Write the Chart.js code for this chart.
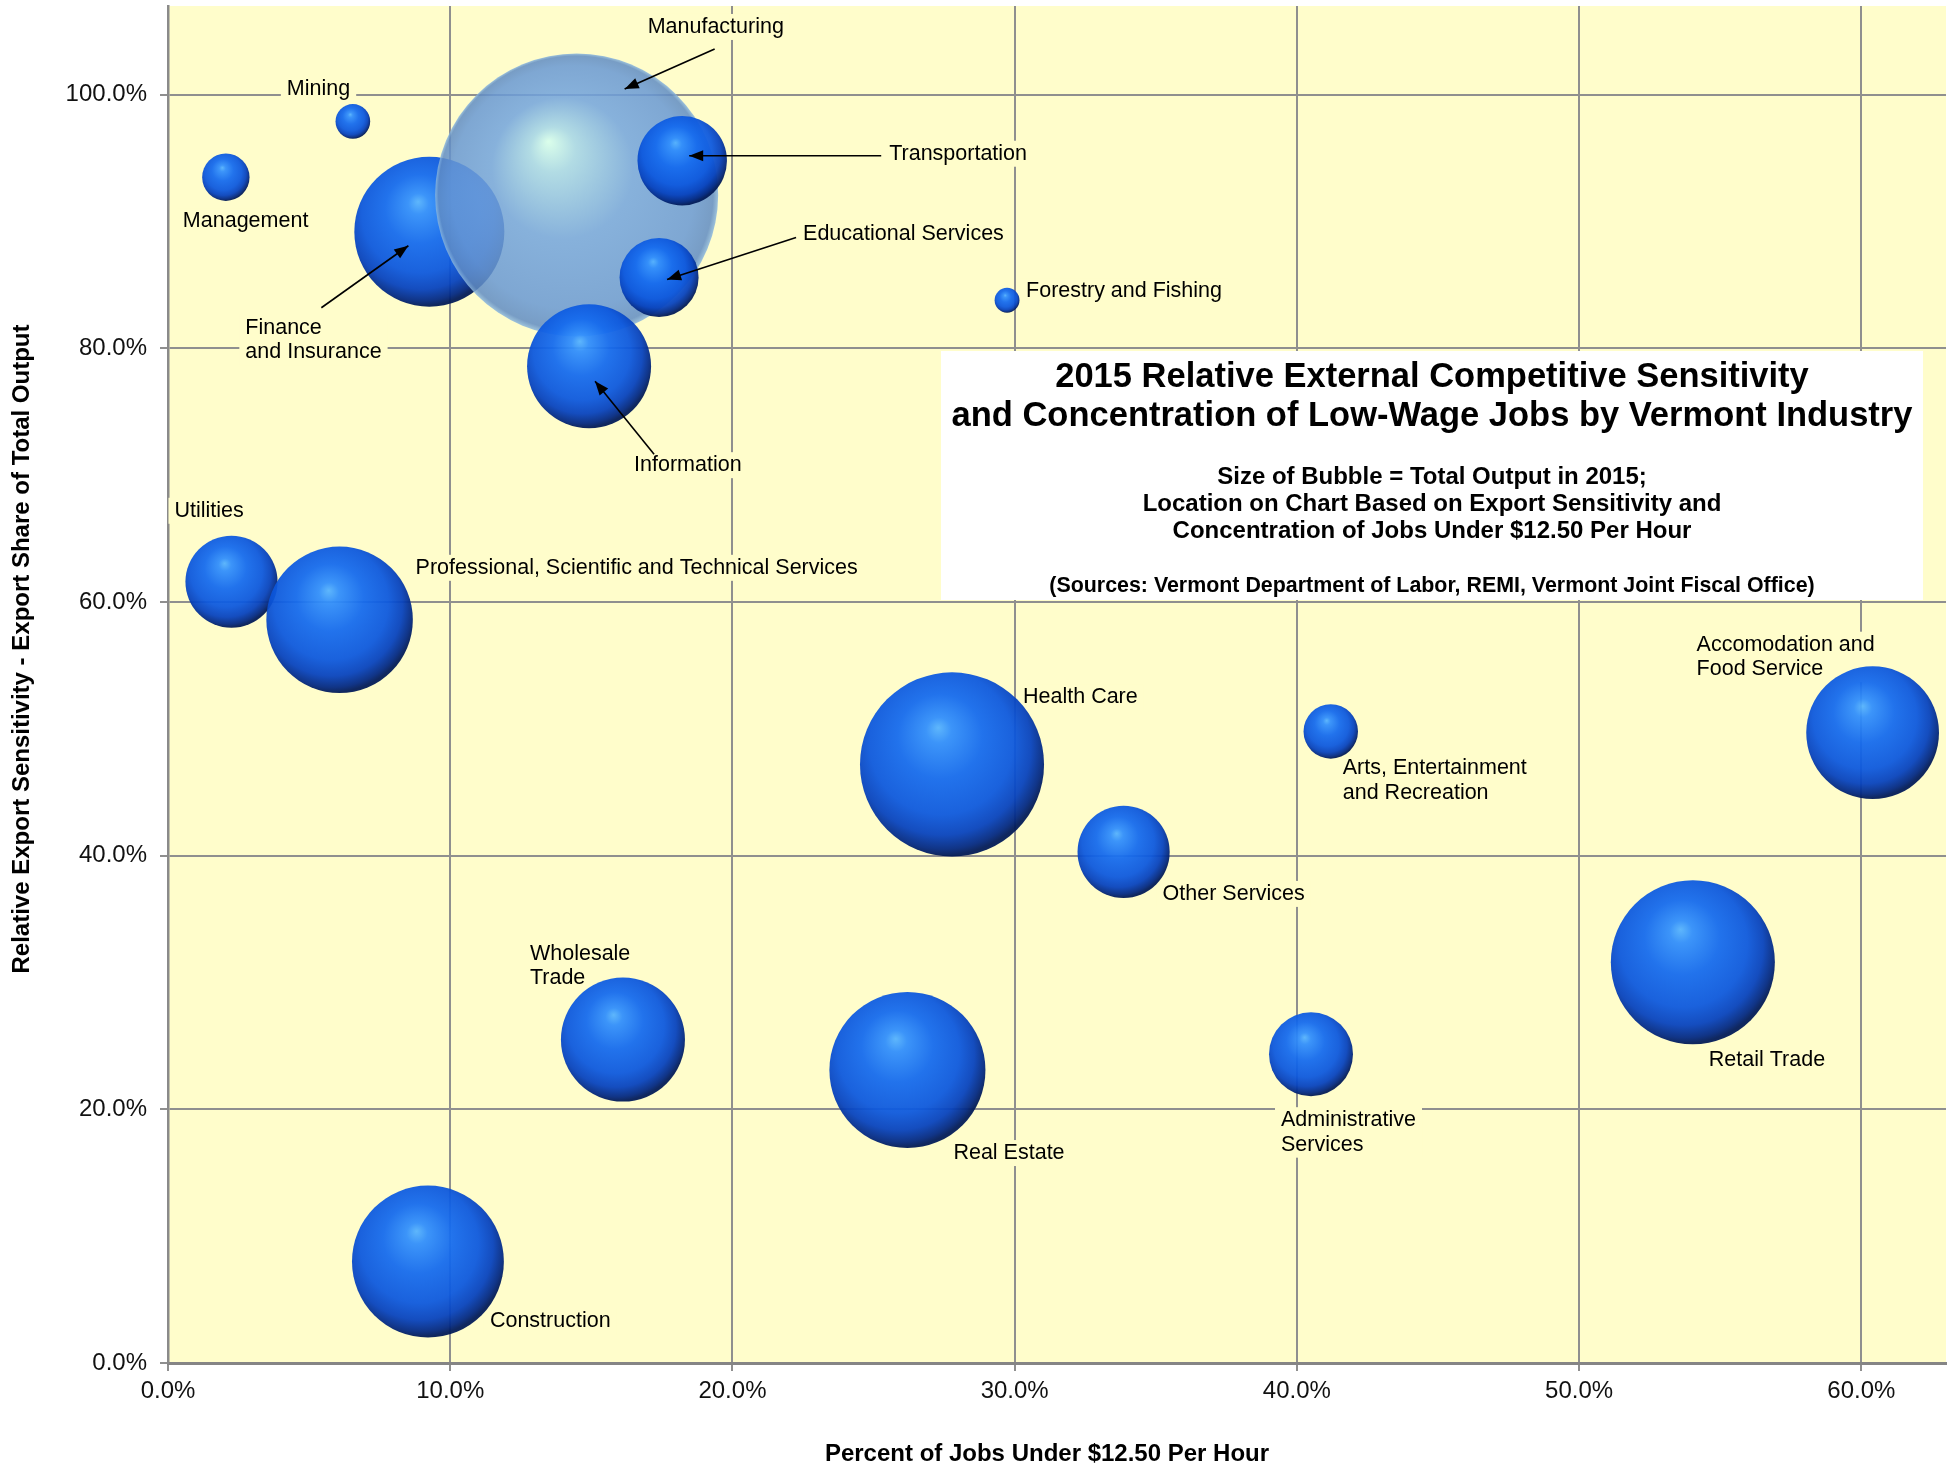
<!DOCTYPE html>
<html>
<head>
<meta charset="utf-8">
<script src="https://cdn.jsdelivr.net/npm/chart.js@4.4.0/dist/chart.umd.min.js"></script>
<style>
  html, body { margin: 0; padding: 0; background: #fff; }
  #chart { display: block; }
</style>
</head>
<body>
<canvas id="chart" width="1949" height="1468"></canvas>
<script>
// industries, drawn in this order (Manufacturing sits over Finance, under the others)
const industries = [
  'Mining', 'Management', 'Finance\nand Insurance', 'Manufacturing', 'Transportation',
  'Educational Services', 'Information', 'Forestry and Fishing', 'Utilities',
  'Professional, Scientific and Technical Services', 'Health Care',
  'Arts, Entertainment\nand Recreation', 'Accomodation and\nFood Service', 'Other Services',
  'Wholesale\nTrade', 'Real Estate', 'Administrative\nServices', 'Retail Trade', 'Construction'
];
// percent of jobs under $12.50 per hour
const lowWageShare = [0.0655, 0.0205, 0.0926, 0.1448, 0.1822, 0.174, 0.1492, 0.2973, 0.0225,
  0.0608, 0.2778, 0.412, 0.604, 0.3386, 0.1612, 0.262, 0.405, 0.5403, 0.0921];
// relative export sensitivity (export share of total output)
const exportShare = [0.979, 0.935, 0.892, 0.921, 0.948, 0.856, 0.786, 0.838, 0.616,
  0.586, 0.472, 0.498, 0.497, 0.403, 0.255, 0.231, 0.2435, 0.316, 0.080];
// total output 2015, relative (Manufacturing = 100)
const totalOutput = [1.5, 2.8, 28.1, 100, 10.0, 7.8, 19.2, 0.77, 10.6,
  26.8, 42.3, 3.7, 22.0, 10.6, 19.2, 30.4, 8.8, 33.6, 28.8];

const xTickValues = [0, 0.1, 0.2, 0.3, 0.4, 0.5, 0.6];
const xTickLabels = ['0.0%', '10.0%', '20.0%', '30.0%', '40.0%', '50.0%', '60.0%'];
const yTickValues = [0, 0.2, 0.4, 0.6, 0.8, 1.0];
const yTickLabels = ['0.0%', '20.0%', '40.0%', '60.0%', '80.0%', '100.0%'];

const FONT = "'Liberation Sans', Arial, sans-serif";
const PLOT_BG = '#FFFDCB';
const GRID = '#8f8f8f';
const MAX_R = 141.5;
const LINE_H = 24.5;
const LABEL_FONT = '21.5px ' + FONT;

// label placement, offsets from the bubble centre in px
const labelLayout = {
  'Mining': { dx: -66, dy: -32 },
  'Management': { dx: -43, dy: 44 },
  'Finance\nand Insurance': { dx: -184, dy: 96, arrow: [-108, 76, -21, 14] },
  'Manufacturing': { dx: 71, dy: -168, arrow: [138, -146, 48, -106] },
  'Transportation': { dx: 207, dy: -7, arrow: [199, -5, 7, -5] },
  'Educational Services': { dx: 144, dy: -43, arrow: [137, -40, 8, 2] },
  'Information': { dx: 45, dy: 99, arrow: [65, 88, 6, 15] },
  'Forestry and Fishing': { dx: 19, dy: -9 },
  'Utilities': { dx: -57, dy: -71 },
  'Professional, Scientific and Technical Services': { dx: 76, dy: -52 },
  'Health Care': { dx: 71, dy: -67 },
  'Arts, Entertainment\nand Recreation': { dx: 12, dy: 37 },
  'Accomodation and\nFood Service': { dx: -176, dy: -88 },
  'Other Services': { dx: 39, dy: 42 },
  'Wholesale\nTrade': { dx: -93, dy: -86 },
  'Real Estate': { dx: 46, dy: 83 },
  'Administrative\nServices': { dx: -30, dy: 66 },
  'Retail Trade': { dx: 16, dy: 98 },
  'Construction': { dx: 62, dy: 60 }
};

function bubbleFill(ctx) {
  if (ctx.type !== 'data') return '#0d5fe6';
  const chart = ctx.chart;
  const xs = chart.scales.x, ys = chart.scales.y;
  if (!xs || !ys || !chart.chartArea) return '#0d5fe6';
  const raw = ctx.raw;
  const cx = xs.getPixelForValue(raw.x), cy = ys.getPixelForValue(raw.y), r = raw.r;
  const c = chart.ctx;
  if (industries[ctx.dataIndex] === 'Manufacturing') {
    const g = c.createRadialGradient(cx - 0.2 * r, cy - 0.38 * r, 0, cx, cy, r);
    g.addColorStop(0, 'rgba(215,255,238,0.9)');
    g.addColorStop(0.16, 'rgba(165,214,232,0.86)');
    g.addColorStop(0.5, 'rgba(114,164,222,0.85)');
    g.addColorStop(0.86, 'rgba(104,152,212,0.85)');
    g.addColorStop(0.97, 'rgba(96,140,196,0.85)');
    g.addColorStop(1, 'rgba(140,184,222,0.85)');
    return g;
  }
  // off-centre outer circle: lit upper-left, shaded lower-right
  const g = c.createRadialGradient(cx - 0.15 * r, cy - 0.4 * r, 0, cx - 0.1 * r, cy - 0.16 * r, 1.15 * r);
  g.addColorStop(0, 'rgba(84,178,255,0.94)');
  g.addColorStop(0.12, 'rgba(48,142,252,0.94)');
  g.addColorStop(0.4, 'rgba(20,106,238,0.94)');
  g.addColorStop(0.68, 'rgba(12,88,222,0.94)');
  g.addColorStop(0.84, 'rgba(6,66,190,0.94)');
  g.addColorStop(0.95, 'rgba(2,40,130,0.94)');
  g.addColorStop(1, 'rgba(1,26,88,0.94)');
  return g;
}

function drawArrow(c, x1, y1, x2, y2) {
  c.beginPath();
  c.moveTo(x1, y1);
  c.lineTo(x2, y2);
  c.stroke();
  const a = Math.atan2(y2 - y1, x2 - x1), L = 14, W = 5.5;
  c.beginPath();
  c.moveTo(x2, y2);
  c.lineTo(x2 - L * Math.cos(a) + W * Math.sin(a), y2 - L * Math.sin(a) - W * Math.cos(a));
  c.lineTo(x2 - L * Math.cos(a) - W * Math.sin(a), y2 - L * Math.sin(a) + W * Math.cos(a));
  c.closePath();
  c.fill();
}

const plotBackground = {
  id: 'plotBackground',
  beforeDraw(chart) {
    const { ctx, chartArea: a } = chart;
    ctx.save();
    ctx.fillStyle = PLOT_BG;
    ctx.fillRect(a.left, a.top, a.right - a.left, a.bottom - a.top);
    ctx.restore();
  }
};

const titleBox = {
  id: 'titleBox',
  beforeDatasetsDraw(chart) {
    const c = chart.ctx;
    c.save();
    c.fillStyle = '#ffffff';
    c.fillRect(941, 351, 982, 249);
    c.fillStyle = '#000';
    c.textAlign = 'center';
    c.textBaseline = 'middle';
    const cx = 1432;
    c.font = 'bold 34.5px ' + FONT;
    c.fillText('2015 Relative External Competitive Sensitivity', cx, 377);
    c.fillText('and Concentration of Low-Wage Jobs by Vermont Industry', cx, 416);
    c.font = 'bold 24px ' + FONT;
    c.fillText('Size of Bubble = Total Output in 2015;', cx, 477);
    c.fillText('Location on Chart Based on Export Sensitivity and', cx, 504);
    c.fillText('Concentration of Jobs Under $12.50 Per Hour', cx, 531);
    c.font = 'bold 21.4px ' + FONT;
    c.fillText('(Sources: Vermont Department of Labor, REMI, Vermont Joint Fiscal Office)', cx, 586);
    c.restore();
  }
};

function eachLabel(chart, fn) {
  const meta = chart.getDatasetMeta(0);
  industries.forEach((name, i) => {
    const el = meta.data[i];
    const lay = labelLayout[name];
    if (el && lay) fn(el, lay, name.split('\n'));
  });
}

// label plates sit under the bubbles, text and arrows on top
const bubbleLabels = {
  id: 'bubbleLabels',
  beforeDatasetsDraw(chart) {
    const c = chart.ctx;
    c.save();
    c.font = LABEL_FONT;
    c.fillStyle = PLOT_BG;
    eachLabel(chart, (el, lay, lines) => {
      const x = el.x + lay.dx, y = el.y + lay.dy;
      const w = Math.max(...lines.map(s => c.measureText(s).width));
      c.fillRect(x - 6, y - 13, w + 12, LINE_H * (lines.length - 1) + 26);
    });
    c.restore();
  },
  afterDatasetsDraw(chart) {
    const c = chart.ctx;
    c.save();
    c.font = LABEL_FONT;
    c.textBaseline = 'middle';
    c.textAlign = 'left';
    c.lineWidth = 1.6;
    c.strokeStyle = '#000';
    c.fillStyle = '#000';
    eachLabel(chart, (el, lay, lines) => {
      const x = el.x + lay.dx, y = el.y + lay.dy;
      lines.forEach((s, k) => c.fillText(s, x, y + k * LINE_H));
      if (lay.arrow) {
        const [x1, y1, x2, y2] = lay.arrow;
        drawArrow(c, el.x + x1, el.y + y1, el.x + x2, el.y + y2);
      }
    });
    c.restore();
  }
};

const axisTitles = {
  id: 'axisTitles',
  afterDraw(chart) {
    const c = chart.ctx;
    const a = chart.chartArea;
    c.save();
    c.fillStyle = '#000';
    c.font = 'bold 24px ' + FONT;
    c.textAlign = 'center';
    c.textBaseline = 'middle';
    c.fillText('Percent of Jobs Under $12.50 Per Hour', (a.left + a.right) / 2 - 10, 1454);
    c.translate(22, 649);
    c.rotate(-Math.PI / 2);
    c.fillText('Relative Export Sensitivity - Export Share of Total Output', 0, 0);
    c.restore();
  }
};

const points = industries.map((name, i) => ({
  x: lowWageShare[i],
  y: exportShare[i],
  r: MAX_R * Math.sqrt(totalOutput[i] / 100)
}));

Chart.defaults.font.family = FONT;

new Chart(document.getElementById('chart'), {
  type: 'bubble',
  data: {
    datasets: [{
      label: 'Vermont industries',
      data: points,
      backgroundColor: bubbleFill,
      borderWidth: 0
    }]
  },
  options: {
    responsive: false,
    devicePixelRatio: 1,
    animation: false,
    events: [],
    layout: { autoPadding: false, padding: { top: 6, right: 3, left: 0, bottom: 0 } },
    plugins: {
      legend: { display: false },
      tooltip: { enabled: false }
    },
    scales: {
      x: {
        type: 'linear',
        min: 0,
        max: 0.63,
        afterFit: s => { s.height = 105; s.paddingLeft = 0; s.paddingRight = 0; },
        afterBuildTicks: s => { s.ticks = xTickValues.map(v => ({ value: v })); },
        ticks: {
          autoSkip: false,
          maxRotation: 0,
          padding: 6,
          color: '#111',
          font: { size: 24 },
          callback: (v, i) => xTickLabels[i]
        },
        grid: { color: GRID, lineWidth: 2, tickLength: 8, tickColor: GRID },
        border: { color: '#858585', width: 3 }
      },
      y: {
        type: 'linear',
        min: 0,
        max: 1.07,
        afterFit: s => { s.width = 168; s.paddingTop = 0; s.paddingBottom = 0; },
        afterBuildTicks: s => { s.ticks = yTickValues.map(v => ({ value: v })); },
        ticks: {
          autoSkip: false,
          padding: 13,
          color: '#111',
          font: { size: 24 },
          callback: (v, i) => yTickLabels[i]
        },
        grid: { color: GRID, lineWidth: 2, tickLength: 8, tickColor: GRID },
        border: { color: '#8a8a8a', width: 2.5 }
      }
    }
  },
  plugins: [plotBackground, titleBox, bubbleLabels, axisTitles]
});
</script>
</body>
</html>
